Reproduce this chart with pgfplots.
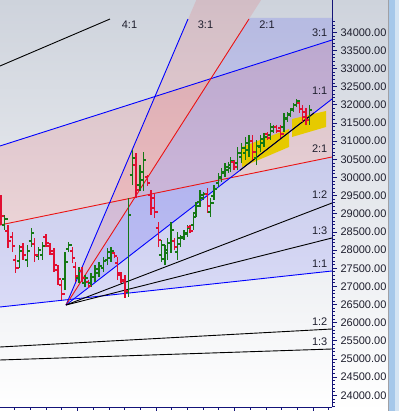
\documentclass[border=0pt]{standalone}
\usepackage{pgfplots}
\pgfplotsset{compat=1.18}
\usepackage{pgfplotstable}
\usepackage{fontspec}
\setmainfont{Liberation Sans}
\definecolor{navy}{RGB}{20,20,120}
\definecolor{cgreen}{RGB}{20,120,20}
\definecolor{cred}{RGB}{225,15,50}
\definecolor{gyel}{RGB}{230,202,0}
\definecolor{lblue}{RGB}{0,0,255}
\definecolor{lred}{RGB}{235,20,20}
\definecolor{bgtop}{RGB}{206,211,220}
\definecolor{bgmid}{RGB}{240,241,243}
\definecolor{sbline}{RGB}{160,160,165}
\definecolor{sbmid}{RGB}{166,200,234}
\definecolor{sblight}{RGB}{212,228,243}
\definecolor{labc}{RGB}{30,30,45}

\pgfdeclareplotmark{openl}{\pgfpathmoveto{\pgfpoint{-2.8bp}{0pt}}\pgfpathlineto{\pgfpoint{0pt}{0pt}}\pgfusepathqstroke}
\pgfdeclareplotmark{closer}{\pgfpathmoveto{\pgfpoint{0pt}{0pt}}\pgfpathlineto{\pgfpoint{2.8bp}{0pt}}\pgfusepathqstroke}

\pgfplotstableread{
x H L O C
4.7 28967 28554 28691 28857
19.3 28140 27507 27699 27975
27.3 28140 27534 27727 27975
31.3 28609 28085 28250 28471
38.3 28085 27727 27837 28002
42.3 28223 27727 27865 28113
65 27947 26900 27204 27672
68.7 28223 27947 28030 28140
79 27534 27093 27231 27424
85 27314 26983 27093 27231
91 27369 26983 27093 27259
95 27589 27121 27259 27479
99 27672 27259 27369 27562
103.3 27810 27396 27507 27699
107.7 28058 27589 27727 27947
111 28085 27672 27782 27975
128.3 29435 26708 26846 28967
132.3 30757 29793 30069 30537
140 30344 29628 29793 30151
143.3 30702 29628 29931 30482
161.7 28278 27672 27865 28140
165 28140 27589 27755 28002
167.7 28333 27727 27920 28195
171 28774 27920 28195 28554
177.3 28498 27727 27947 28333
180.7 28416 28085 28168 28333
184 28554 28278 28361 28471
187.3 28691 28361 28443 28609
193.3 29049 28554 28691 28912
196 29325 28912 29022 29215
200 29655 29187 29325 29518
203.3 29600 29380 29435 29545
210.7 29435 28912 29049 29297
214 29793 29380 29490 29683
218.3 30124 29738 29848 30013
221.7 30261 29876 29986 30151
225 30399 30013 30124 30289
228.3 30427 30124 30206 30344
230.7 30565 30151 30261 30454
237.7 30840 30206 30399 30675
241.7 30950 30399 30565 30812
245.7 31116 30482 30675 30950
249 31171 30565 30757 31005
256.7 31033 30344 30537 30868
260.7 31171 30702 30840 31060
264 31226 30840 30950 31116
270.7 31501 31033 31171 31391
273.3 31446 31226 31281 31391
284 31777 31254 31391 31639
287.3 31804 31529 31612 31722
290.7 31914 31667 31749 31859
293.3 32052 31804 31887 31997
296.7 32162 31942 31997 32107
309.3 31997 31446 31584 31859
}\greenbars

\pgfplotstableread{
x H L O C
1 29518 28691 29297 28939
8 28691 28058 28526 28250
12.3 28498 27947 28361 28113
15.7 27865 27369 27727 27507
23 28195 27727 28085 27865
34.7 28333 27672 28168 27865
46 28443 28085 28361 28195
50 28195 27865 28113 27975
54 28058 27396 27892 27589
58 27589 27038 27451 27204
61.7 27176 26625 27038 26790
72.3 28085 27644 27975 27782
75.5 27672 27121 27534 27286
82 27534 27121 27424 27231
88.3 27176 26955 27121 27011
114.3 27947 27782 27920 27837
117.7 27810 27176 27644 27369
121 27396 27093 27314 27176
125 27314 26680 27148 26873
136 30675 29435 30344 29655
147.3 30069 29766 30013 29848
151 29655 28967 29518 29160
154.7 29573 28884 29435 29049
158.3 28774 28085 28609 28278
174.3 28333 28002 28250 28085
190 28691 28471 28636 28526
207.3 29710 29022 29545 29215
234 30482 30206 30427 30289
252.7 31171 30482 31005 30702
267.3 31254 31033 31198 31088
276.7 31446 31226 31391 31281
280.7 31446 31088 31364 31198
299.3 32135 31777 32052 31887
302.7 31997 31529 31887 31667
306 31914 31446 31804 31584
}\redbars

\newcommand\lab{\fontsize{11bp}{13bp}\selectfont}

\begin{document}
\begin{tikzpicture}
\path[use as bounding box] (0,0) rectangle (399bp,411bp);
\shade[top color=bgtop, middle color=bgmid, bottom color=white] (0,0) rectangle (388bp,411bp);
\fill[sbline] (388bp,0) rectangle (389bp,411bp);
\fill[sbmid] (389bp,0) rectangle (394.5bp,411bp);
\fill[sblight] (394.5bp,0) rectangle (399bp,411bp);
\begin{axis}[
  at={(0,4bp)}, anchor=south west,
  scale only axis, width=332bp, height=407bp,
  xmin=0, xmax=332, ymin=23677, ymax=34890,
  axis x line*=bottom, axis y line*=right,
  axis on top,
  scaled y ticks=false,
  xtick={77.5,156,234.5,313}, xticklabels={},
  minor xtick={14.7,30.4,46.1,61.8,93.2,108.9,124.6,140.3,171.7,187.4,203.1,218.8,250.2,265.9,281.6,297.3,328.7},
  ytick={24000,24500,...,34000},
  minor ytick={23700,23800,...,34300},
  tick align=outside,
  major tick length=5bp, minor tick length=2.8bp,
  tick style={navy, line width=0.8bp},
  axis line style={navy, line width=1bp},
  yticklabel style={font=\lab, text=labc},
  yticklabel={\pgfmathprintnumber[fixed, fixed zerofill, precision=2, 1000 sep={}, assume math mode=true]{\tick}},
]
% Fan B fills
\addplot[draw=none, fill=red, fill opacity=0.1, forget plot] coordinates {(0,30868) (332,33788) (332,30565) (0,28691)} -- cycle;
\addplot[draw=none, fill=blue, fill opacity=0.1, forget plot] coordinates {(0,28691) (332,30565) (332,27424) (0,26432)} -- cycle;
% Fan A fills
\addplot[draw=none, fill=red, fill opacity=0.1, forget plot] coordinates {(66,26487) (196.3,34890) (261.1,34890)} -- cycle;
\addplot[draw=none, fill=blue, fill opacity=0.12, forget plot] coordinates {(66,26487) (249.6,34394) (332,34394) (332,32162)} -- cycle;
% yellow zones
\addplot[draw=none, fill=gyel, forget plot] coordinates {(242,30840) (289,31336) (289,30840) (242,30289)} -- cycle;
\addplot[draw=none, fill=gyel, forget plot] coordinates {(292,31611) (326,31832) (326,31391) (292,31116)} -- cycle;
% Fan B lines
\addplot[black, line width=0.9bp] coordinates {(0,33072) (110,34366)};
\addplot[lblue, line width=0.9bp] coordinates {(0,30868) (332,33788)};
\addplot[lred, line width=0.9bp] coordinates {(0,28691) (332,30565)};
\addplot[lblue, line width=0.9bp] coordinates {(0,26432) (332,27424)};
\addplot[black, line width=0.9bp] coordinates {(0,25330) (332,25826)};
\addplot[black, line width=0.9bp] coordinates {(0,24972) (332,25275)};
% Fan A lines
\addplot[lblue, line width=0.9bp] coordinates {(66,26487) (188,34366)};
\addplot[lred, line width=0.9bp] coordinates {(66,26487) (249,34366)};
\addplot[lblue, line width=0.9bp] coordinates {(66,26487) (332,32162)};
\addplot[black, line width=0.9bp] coordinates {(240,30200) (314,31779)};
\addplot[black, line width=0.9bp] coordinates {(66,26487) (332,29297)};
\addplot[black, line width=0.9bp] coordinates {(66,26487) (332,28333)};
% OHLC bars
\addplot[draw=none, forget plot, error bars/.cd, y dir=plus, y explicit, error mark=none, error bar style={draw=cgreen, line width=1.3bp}] table[x=x, y=L, y error plus expr=\thisrow{H}-\thisrow{L}] {\greenbars};
\addplot[only marks, mark=openl, mark options={draw=cgreen, line width=1.2bp}] table[x=x, y=O] {\greenbars};
\addplot[only marks, mark=closer, mark options={draw=cgreen, line width=1.2bp}] table[x=x, y=C] {\greenbars};
\addplot[draw=none, forget plot, error bars/.cd, y dir=plus, y explicit, error mark=none, error bar style={draw=cred, line width=1.3bp}] table[x=x, y=L, y error plus expr=\thisrow{H}-\thisrow{L}] {\redbars};
\addplot[only marks, mark=openl, mark options={draw=cred, line width=1.2bp}] table[x=x, y=O] {\redbars};
\addplot[only marks, mark=closer, mark options={draw=cred, line width=1.2bp}] table[x=x, y=C] {\redbars};
% labels
\node[anchor=east, inner sep=0pt, font=\lab, text=labc] at (axis cs:327.5,33981) {3:1};
\node[anchor=east, inner sep=0pt, font=\lab, text=labc] at (axis cs:327.5,32383) {1:1};
\node[anchor=east, inner sep=0pt, font=\lab, text=labc] at (axis cs:327.5,30785) {2:1};
\node[anchor=east, inner sep=0pt, font=\lab, text=labc] at (axis cs:327.5,29518) {1:2};
\node[anchor=east, inner sep=0pt, font=\lab, text=labc] at (axis cs:327.5,28526) {1:3};
\node[anchor=east, inner sep=0pt, font=\lab, text=labc] at (axis cs:327.5,27617) {1:1};
\node[anchor=east, inner sep=0pt, font=\lab, text=labc] at (axis cs:327.5,26019) {1:2};
\node[anchor=east, inner sep=0pt, font=\lab, text=labc] at (axis cs:327.5,25468) {1:3};
\node[inner sep=0pt, font=\lab, text=labc] at (axis cs:129.5,34201) {4:1};
\node[inner sep=0pt, font=\lab, text=labc] at (axis cs:205.5,34201) {3:1};
\node[inner sep=0pt, font=\lab, text=labc] at (axis cs:267,34201) {2:1};
\end{axis}
\end{tikzpicture}
\end{document}
